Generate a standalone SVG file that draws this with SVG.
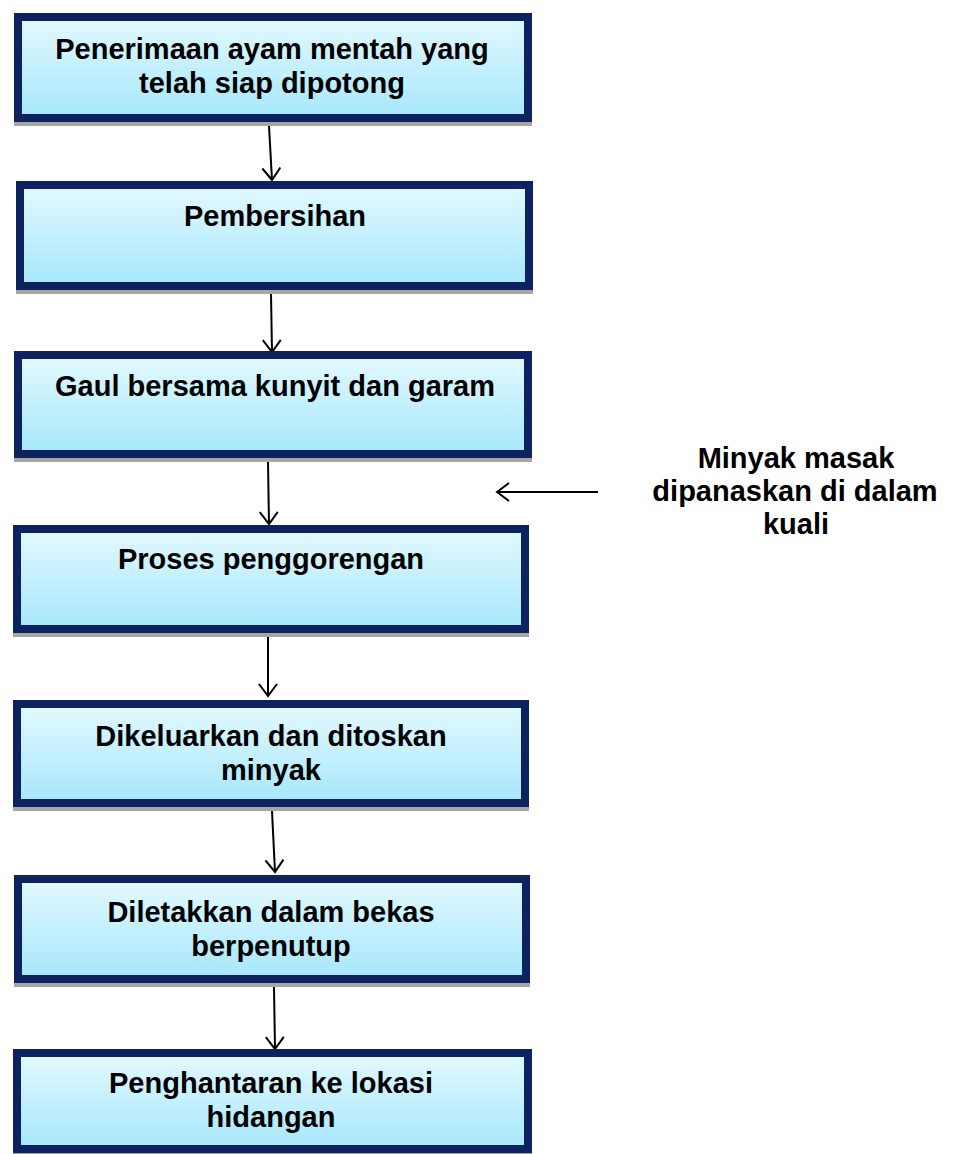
<svg xmlns="http://www.w3.org/2000/svg" width="954" height="1154" viewBox="0 0 954 1154">
<defs>
<linearGradient id="g" x1="0" y1="0" x2="0" y2="1">
<stop offset="0" stop-color="#e3f9ff"/>
<stop offset="1" stop-color="#a6e7fb"/>
</linearGradient>
<marker id="ah" viewBox="0 0 20 20" refX="18" refY="10" markerWidth="20" markerHeight="20" markerUnits="userSpaceOnUse" orient="auto">
<path d="M6,1 L18,10 L6,19" fill="none" stroke="#000" stroke-width="2"/>
</marker>
</defs>
<style>
.sh{fill:#a6a6a6}
.bx{fill:url(#g);stroke:#0d2360;stroke-width:8}
.t{font-family:"Liberation Sans",Arial,sans-serif;font-weight:bold;font-size:29px;fill:#000;text-anchor:middle}
.c{stroke:#000;stroke-width:2;fill:none}
</style>
<g id="connectors">
<line class="c" x1="269" y1="126" x2="272" y2="180" marker-end="url(#ah)"/>
<line class="c" x1="271" y1="294" x2="272" y2="352" marker-end="url(#ah)"/>
<line class="c" x1="268" y1="462" x2="269" y2="524" marker-end="url(#ah)"/>
<line class="c" x1="268" y1="637" x2="268" y2="696" marker-end="url(#ah)"/>
<line class="c" x1="272" y1="811" x2="275" y2="872" marker-end="url(#ah)"/>
<line class="c" x1="274" y1="987" x2="275" y2="1049" marker-end="url(#ah)"/>
<line class="c" x1="598" y1="492" x2="497" y2="492" marker-end="url(#ah)"/>
</g>
<g id="n1">
<rect class="sh" x="14" y="118" width="518" height="8"/>
<rect class="bx" x="18" y="17" width="510" height="101"/>
<text class="t" x="272" y="59">Penerimaan ayam mentah yang</text>
<text class="t" x="272" y="93">telah siap dipotong</text>
</g>
<g id="n2">
<rect class="sh" x="16" y="286" width="517" height="8"/>
<rect class="bx" x="20" y="185" width="509" height="101"/>
<text class="t" x="275" y="226">Pembersihan</text>
</g>
<g id="n3">
<rect class="sh" x="14" y="454" width="518" height="8"/>
<rect class="bx" x="18" y="355" width="510" height="99"/>
<text class="t" x="275" y="396">Gaul bersama kunyit dan garam</text>
</g>
<g id="n4">
<rect class="sh" x="13" y="629" width="516" height="8"/>
<rect class="bx" x="17" y="529" width="508" height="100"/>
<text class="t" x="271" y="569">Proses penggorengan</text>
</g>
<g id="n5">
<rect class="sh" x="13" y="803" width="516" height="8"/>
<rect class="bx" x="17" y="704" width="508" height="99"/>
<text class="t" x="271" y="746">Dikeluarkan dan ditoskan</text>
<text class="t" x="271" y="780">minyak</text>
</g>
<g id="n6">
<rect class="sh" x="14" y="979" width="516" height="8"/>
<rect class="bx" x="18" y="879" width="508" height="100"/>
<text class="t" x="271" y="922">Diletakkan dalam bekas</text>
<text class="t" x="271" y="956">berpenutup</text>
</g>
<g id="n7">
<rect class="sh" x="13" y="1149" width="519" height="8"/>
<rect class="bx" x="17" y="1053" width="511" height="96"/>
<text class="t" x="271" y="1093">Penghantaran ke lokasi</text>
<text class="t" x="271" y="1127">hidangan</text>
</g>
<g id="side">
<text class="t" x="796" y="468">Minyak masak</text>
<text class="t" x="795" y="501">dipanaskan di dalam</text>
<text class="t" x="796" y="534">kuali</text>
</g>
</svg>
